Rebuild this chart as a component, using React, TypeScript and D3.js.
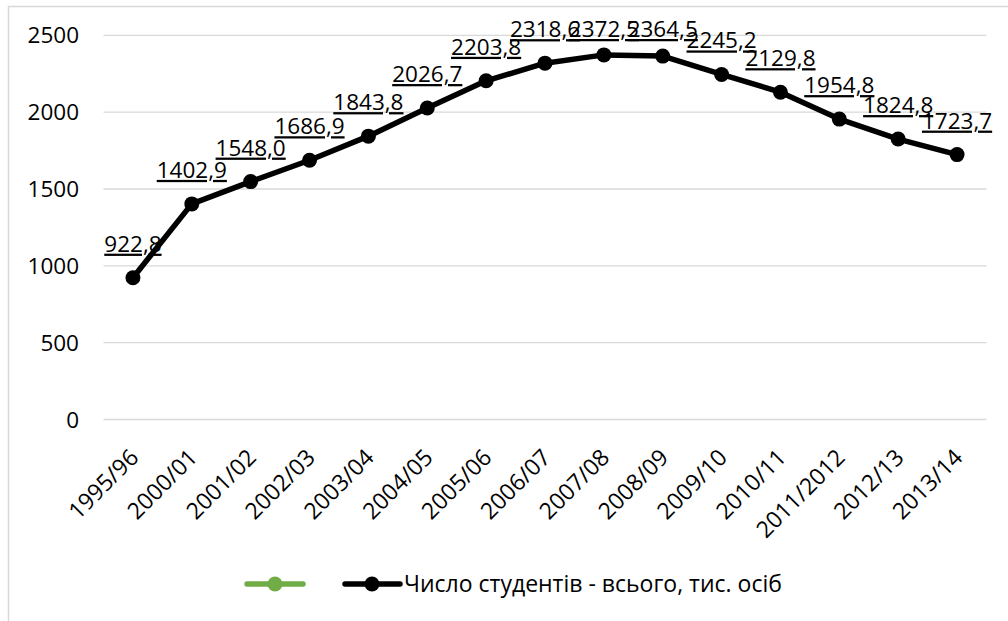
import React from "react";
import * as d3 from "d3";

const categories = ["1995/96","2000/01","2001/02","2002/03","2003/04","2004/05","2005/06","2006/07","2007/08","2008/09","2009/10","2010/11","2011/2012","2012/13","2013/14"];
const students = [922.8,1402.9,1548.0,1686.9,1843.8,2026.7,2203.8,2318.6,2372.5,2364.5,2245.2,2129.8,1954.8,1824.8,1723.7];
const yTicks = [0,500,1000,1500,2000,2500];
const seriesName = "Число студентів - всього, тис. осіб";

const W = 1008, H = 621;
const FONT = "'Open Sans', sans-serif";

export default function App() {
  const x = d3.scalePoint<string>().domain(categories).range([103.5, 986.5]).padding(0.5);
  const y = d3.scaleLinear().domain([0, 2500]).range([419.5, 35.3]);
  const line = d3.line<number>().x((_, i) => x(categories[i])!).y(d => y(d));
  const fmt = (v: number) => v.toFixed(1).replace(".", ",");
  return (
    <svg width={W} height={H} style={{ position: "absolute", left: 0, top: 0, background: "#fff" }} fontFamily={FONT}>
      <rect x={8.5} y={6.5} width={1200} height={800} fill="#fff" stroke="#d9d9d9" strokeWidth={1.5} />
      {yTicks.map(t => (
        <g key={t}>
          <line x1={103.5} x2={986.5} y1={y(t)} y2={y(t)} stroke="#d9d9d9" strokeWidth={1.3} />
          <text x={79} y={y(t)} dy="0.36em" textAnchor="end" fontSize={22.5} fill="#000">{t}</text>
        </g>
      ))}
      {categories.map(c => (
        <text key={c} transform={`translate(${x(c)! + 7},${459}) rotate(-45)`} textAnchor="end" fontSize={23} fill="#000">{c}</text>
      ))}
      <path d={line(students) || ""} fill="none" stroke="#000" strokeWidth={5.5} strokeLinejoin="round" />
      {students.map((v, i) => (
        <circle key={i} cx={x(categories[i])} cy={y(v)} r={7.5} fill="#000" />
      ))}
      {students.map((v, i) => (
        <text key={"l" + i} x={x(categories[i])} y={Math.max(y(v) - 26, 37)} textAnchor="middle" fontSize={22.5} fill="#000" textDecoration="underline">{fmt(v)}</text>
      ))}
      <g>
        <line x1={247} x2={303} y1={584} y2={584} stroke="#70AD47" strokeWidth={5.5} strokeLinecap="round" />
        <circle cx={275} cy={584} r={7.5} fill="#70AD47" />
        <line x1={345} x2={400} y1={584} y2={584} stroke="#000" strokeWidth={5.5} strokeLinecap="round" />
        <circle cx={372} cy={584} r={7.5} fill="#000" />
        <text x={404} y={584} dy="0.36em" fontSize={23} fill="#000">{seriesName}</text>
      </g>
    </svg>
  );
}
